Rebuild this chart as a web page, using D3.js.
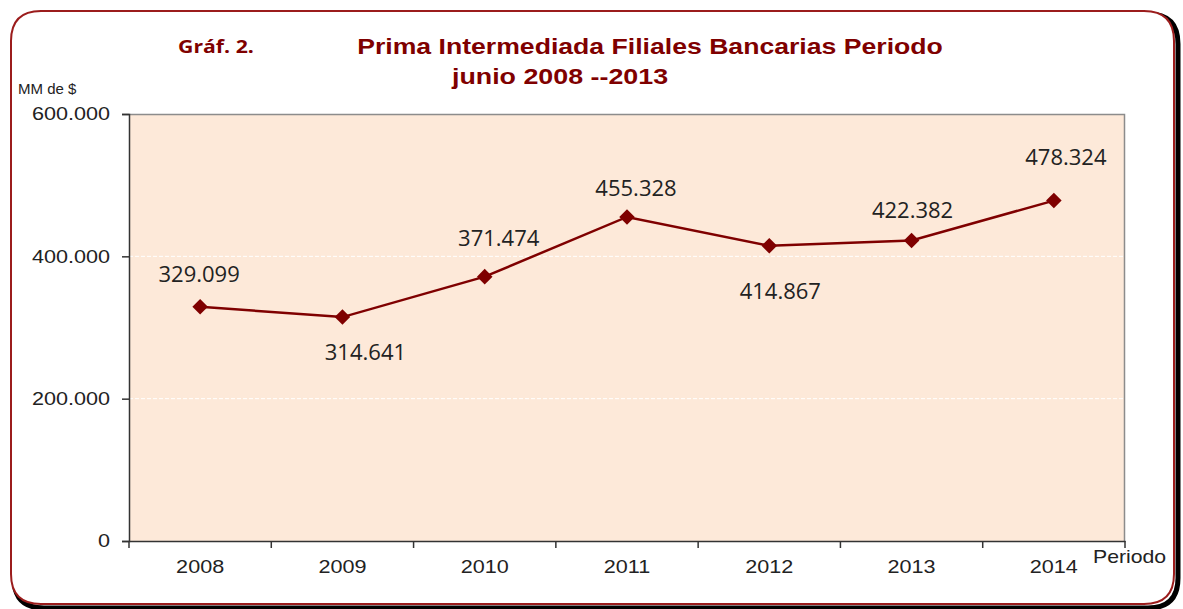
<!DOCTYPE html>
<html>
<head>
<meta charset="utf-8">
<script src="https://cdn.jsdelivr.net/npm/d3@7"></script>
<style>
  body { margin: 0; background: #fff; }
</style>
</head>
<body>
<div id="chart-area"></div>
<script>
const years = ["2008", "2009", "2010", "2011", "2012", "2013", "2014"]
const values = [329099, 314641, 371474, 455328, 414867, 422382, 478324]
const yTicks = [0, 200000, 400000, 600000]
// hand-placed data label offsets (baseline, relative to the point)
const labelDx = [-1, 23, 14, 9, 11, 1, 12]
const labelDy = [-25, 43, -31, -21, 53, -22, -36]

const W = 1183, H = 609
const MARGIN = { LEFT: 129, RIGHT: 58, TOP: 114, BOTTOM: 68 }
const WIDTH = W - MARGIN.LEFT - MARGIN.RIGHT
const HEIGHT = H - MARGIN.TOP - MARGIN.BOTTOM
const RED = "#7f0000"
const SX = 1.2   // the original picture is a bit wider than tall

const svg = d3.select("#chart-area").append("svg")
  .attr("width", W)
  .attr("height", H)

// frame with shadow
svg.append("path")
  .attr("d", roundRect(14, 14, 1164, 594, 30))
  .attr("fill", "none")
  .attr("stroke", "#000")
  .attr("stroke-width", 5)
svg.append("path")
  .attr("d", roundRect(11, 11, 1163, 593, 30))
  .attr("fill", "#fff")
  .attr("stroke", "#9b1c1c")
  .attr("stroke-width", 2)

function roundRect(x, y, w, h, r) {
  return `M${x + r},${y} H${x + w - r} Q${x + w},${y} ${x + w},${y + r} V${y + h - r} Q${x + w},${y + h} ${x + w - r},${y + h} H${x + r} Q${x},${y + h} ${x},${y + h - r} V${y + r} Q${x},${y} ${x + r},${y} Z`
}

function label(sel, x, y, txt, sx) {
  return sel.append("text")
    .attr("transform", `translate(${x}, ${y}) scale(${sx || SX}, 1)`)
    .text(txt)
}

// titles
label(svg, 178, 53, "Gráf. 2.", 1.25)
  .attr("font-family", "'Open Sans', sans-serif")
  .attr("font-weight", "bold")
  .attr("font-size", "17px")
  .attr("fill", RED)
label(svg, 650, 54, "Prima Intermediada Filiales  Bancarias Periodo", 1.21)
  .attr("text-anchor", "middle")
  .attr("font-family", "'Liberation Sans', Arial, sans-serif")
  .attr("font-weight", "bold")
  .attr("font-size", "22px")
  .attr("fill", RED)
label(svg, 560, 84, "junio 2008 --2013", 1.22)
  .attr("text-anchor", "middle")
  .attr("font-family", "'Liberation Sans', Arial, sans-serif")
  .attr("font-weight", "bold")
  .attr("font-size", "22px")
  .attr("fill", RED)

label(svg, 18, 94, "MM  de $", 1.0)
  .attr("font-family", "'Liberation Sans', Arial, sans-serif")
  .attr("font-size", "15px")
  .attr("fill", "#222")

const g = svg.append("g")
  .attr("transform", `translate(${MARGIN.LEFT}, ${MARGIN.TOP})`)

const x = d3.scaleBand()
  .domain(years)
  .range([0, WIDTH])

const y = d3.scaleLinear()
  .domain([0, 600000])
  .range([HEIGHT, 0])

// plot background
g.append("rect")
  .attr("width", WIDTH)
  .attr("height", HEIGHT)
  .attr("fill", "#fde9d9")

// gridlines
g.selectAll(".grid")
  .data(yTicks.filter(d => d > 0 && d < 600000))
  .enter().append("line")
  .attr("x1", 0).attr("x2", WIDTH)
  .attr("y1", d => y(d)).attr("y2", d => y(d))
  .attr("stroke", "#ffffff")
  .attr("stroke-dasharray", "4,2")
  .attr("stroke-width", 1)

// top / right border
g.append("path")
  .attr("d", `M0,0.5 H${WIDTH - 0.5} V${HEIGHT}`)
  .attr("fill", "none")
  .attr("stroke", "#8c8c8c")
  .attr("stroke-width", 1.5)

const fmt = v => d3.format(",")(v).replace(/,/g, ".")

const yAxisCall = d3.axisLeft(y)
  .tickValues(yTicks)
  .tickSize(7)
  .tickPadding(0)
  .tickFormat(fmt)
const yAxis = g.append("g").call(yAxisCall)
yAxis.select(".domain").attr("stroke", "#333").attr("stroke-width", 1.5)
yAxis.selectAll("line").attr("stroke", "#333").attr("stroke-width", 1.5)
yAxis.selectAll("text")
  .attr("x", 0)
  .attr("transform", `translate(-19, 0) scale(${SX}, 1)`)
  .attr("font-family", "'Liberation Sans', Arial, sans-serif")
  .attr("font-size", "18px")
  .attr("fill", "#222")

const xAxisCall = d3.axisBottom(x).tickSize(0).tickPadding(19)
const xAxis = g.append("g")
  .attr("transform", `translate(0, ${HEIGHT})`)
  .call(xAxisCall)
xAxis.select(".domain").attr("stroke", "#333").attr("stroke-width", 1.5)
xAxis.selectAll("text")
  .attr("transform", `scale(${SX}, 1)`)
  .attr("font-family", "'Liberation Sans', Arial, sans-serif")
  .attr("font-size", "18px")
  .attr("fill", "#222")
// tick marks at band boundaries
xAxis.selectAll(".btick")
  .data(years)
  .enter().append("line")
  .attr("x1", d => x(d)).attr("x2", d => x(d))
  .attr("y1", 0).attr("y2", 7)
  .attr("stroke", "#333")
  .attr("stroke-width", 1.5)
xAxis.append("line")
  .attr("x1", WIDTH).attr("x2", WIDTH)
  .attr("y1", 0).attr("y2", 7)
  .attr("stroke", "#333")
  .attr("stroke-width", 1.5)

label(svg, 1093, 563, "Periodo", 1.18)
  .attr("font-family", "'Liberation Sans', Arial, sans-serif")
  .attr("font-size", "18px")
  .attr("fill", "#222")

const cx = d => x(d.year) + x.bandwidth() / 2
const data = years.map((yr, i) => ({ year: yr, value: values[i], dx: labelDx[i], dy: labelDy[i] }))

const line = d3.line()
  .x(cx)
  .y(d => y(d.value))

g.append("path")
  .datum(data)
  .attr("d", line)
  .attr("fill", "none")
  .attr("stroke", RED)
  .attr("stroke-width", 2.5)

g.selectAll(".marker")
  .data(data)
  .enter().append("path")
  .attr("transform", d => `translate(${cx(d)}, ${y(d.value)}) rotate(45)`)
  .attr("d", "M-5.5,-5.5 H5.5 V5.5 H-5.5 Z")
  .attr("fill", RED)

g.selectAll(".label")
  .data(data)
  .enter().append("text")
  .attr("x", d => cx(d) + d.dx)
  .attr("y", d => y(d.value) + d.dy)
  .attr("text-anchor", "middle")
  .attr("font-family", "'Open Sans', sans-serif")
  .attr("font-size", "22px")
  .attr("fill", "#222")
  .text(d => fmt(d.value))
</script>
</body>
</html>
